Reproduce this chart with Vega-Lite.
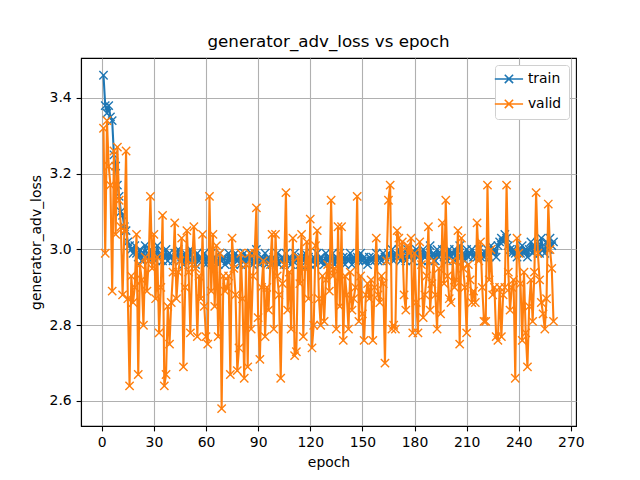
{
  "$schema": "https://vega.github.io/schema/vega-lite/v6.json",
  "autosize": "none",
  "width": 495,
  "height": 368,
  "padding": {"left": 81, "top": 58, "right": 64, "bottom": 54},
  "background": "white",
  "title": {"text": "generator_adv_loss vs epoch", "fontSize": 16.7, "fontWeight": "normal", "font": "DejaVu Sans", "color": "black", "offset": 7, "anchor": "middle"},
  "config": {
    "font": "DejaVu Sans",
    "view": {"stroke": "black", "strokeWidth": 1.1},
    "axis": {"domainColor": "black", "domainWidth": 1.1, "tickColor": "black", "tickWidth": 1.1, "tickSize": 4.9, "labelPadding": 4.9, "labelFontSize": 13.9, "labelColor": "black", "labelFont": "DejaVu Sans", "titleFontSize": 13.9, "titleFontWeight": "normal", "titleColor": "black", "titleFont": "DejaVu Sans", "titlePadding": 5.6, "gridColor": "#b0b0b0", "gridWidth": 1.1, "gridOpacity": 1}
  },
  "data": {"values": [
{"epoch":1,"train":3.46,"valid":3.32},{"epoch":2,"train":3.38,"valid":2.99},{"epoch":3,"train":3.36,"valid":3.34},{"epoch":4,"train":3.38,"valid":3.22},{"epoch":5,"train":3.35,"valid":3.17},
{"epoch":6,"train":3.34,"valid":2.89},{"epoch":7,"train":3.25,"valid":3.26},{"epoch":8,"train":3.22,"valid":3.04},{"epoch":9,"train":3.17,"valid":3.27},{"epoch":10,"train":3.14,"valid":3.13},
{"epoch":11,"train":3.10,"valid":3.06},{"epoch":12,"train":3.09,"valid":2.88},{"epoch":13,"train":3.06,"valid":3.05},{"epoch":14,"train":3.05,"valid":3.26},{"epoch":15,"train":3.02,"valid":2.87},
{"epoch":16,"train":3.01,"valid":2.64},{"epoch":17,"train":3.00,"valid":2.93},{"epoch":18,"train":2.99,"valid":2.86},{"epoch":19,"train":3.01,"valid":2.90},{"epoch":20,"train":2.99,"valid":3.04},
{"epoch":21,"train":2.98,"valid":2.67},{"epoch":22,"train":3.00,"valid":2.96},{"epoch":23,"train":2.97,"valid":2.92},{"epoch":24,"train":2.99,"valid":2.80},{"epoch":25,"train":3.01,"valid":2.98},
{"epoch":26,"train":2.98,"valid":2.89},{"epoch":27,"train":2.97,"valid":2.97},{"epoch":28,"train":3.00,"valid":3.14},{"epoch":29,"train":2.98,"valid":2.95},{"epoch":30,"train":2.99,"valid":3.04},
{"epoch":31,"train":2.97,"valid":2.87},{"epoch":32,"train":3.01,"valid":2.98},{"epoch":33,"train":2.98,"valid":2.78},{"epoch":34,"train":2.99,"valid":2.90},{"epoch":35,"train":2.97,"valid":3.09},
{"epoch":36,"train":2.98,"valid":2.64},{"epoch":37,"train":3.00,"valid":2.67},{"epoch":38,"train":2.97,"valid":2.85},{"epoch":39,"train":2.99,"valid":2.75},{"epoch":40,"train":2.98,"valid":2.86},
{"epoch":41,"train":2.97,"valid":2.94},{"epoch":42,"train":2.99,"valid":3.07},{"epoch":43,"train":2.98,"valid":2.87},{"epoch":44,"train":3.00,"valid":2.94},{"epoch":45,"train":2.97,"valid":2.97},
{"epoch":46,"train":2.98,"valid":3.03},{"epoch":47,"train":2.96,"valid":2.69},{"epoch":48,"train":2.99,"valid":2.90},{"epoch":49,"train":2.98,"valid":3.05},{"epoch":50,"train":2.97,"valid":2.94},
{"epoch":51,"train":3.00,"valid":2.78},{"epoch":52,"train":2.97,"valid":2.96},{"epoch":53,"train":2.98,"valid":3.06},{"epoch":54,"train":2.96,"valid":2.95},{"epoch":55,"train":2.99,"valid":2.77},
{"epoch":56,"train":2.97,"valid":2.93},{"epoch":57,"train":2.98,"valid":2.87},{"epoch":58,"train":2.97,"valid":3.04},{"epoch":59,"train":2.99,"valid":2.85},{"epoch":60,"train":2.96,"valid":2.77},
{"epoch":61,"train":2.98,"valid":2.75},{"epoch":62,"train":2.97,"valid":3.14},{"epoch":63,"train":2.99,"valid":2.89},{"epoch":64,"train":2.96,"valid":3.04},{"epoch":65,"train":2.98,"valid":2.85},
{"epoch":66,"train":2.97,"valid":3.01},{"epoch":67,"train":2.96,"valid":2.77},{"epoch":68,"train":2.99,"valid":2.99},{"epoch":69,"train":2.97,"valid":2.58},{"epoch":70,"train":2.98,"valid":2.93},
{"epoch":71,"train":2.96,"valid":2.89},{"epoch":72,"train":2.97,"valid":2.90},{"epoch":73,"train":2.99,"valid":2.93},{"epoch":74,"train":2.97,"valid":2.67},{"epoch":75,"train":2.98,"valid":3.03},
{"epoch":76,"train":2.96,"valid":2.95},{"epoch":77,"train":2.99,"valid":2.88},{"epoch":78,"train":2.97,"valid":2.68},{"epoch":79,"train":2.98,"valid":2.74},{"epoch":80,"train":2.96,"valid":2.99},
{"epoch":81,"train":2.97,"valid":2.87},{"epoch":82,"train":2.99,"valid":2.66},{"epoch":83,"train":2.96,"valid":2.96},{"epoch":84,"train":2.98,"valid":2.69},{"epoch":85,"train":2.97,"valid":2.99},
{"epoch":86,"train":2.99,"valid":2.79},{"epoch":87,"train":2.96,"valid":2.93},{"epoch":88,"train":2.97,"valid":2.99},{"epoch":89,"train":3.00,"valid":3.11},{"epoch":90,"train":2.97,"valid":2.82},
{"epoch":91,"train":2.96,"valid":2.71},{"epoch":92,"train":2.98,"valid":2.90},{"epoch":93,"train":2.97,"valid":2.97},{"epoch":94,"train":2.99,"valid":2.77},{"epoch":95,"train":2.96,"valid":2.90},
{"epoch":96,"train":2.98,"valid":2.84},{"epoch":97,"train":2.97,"valid":2.96},{"epoch":98,"train":2.96,"valid":3.04},{"epoch":99,"train":2.98,"valid":2.79},{"epoch":100,"train":2.97,"valid":3.04},
{"epoch":101,"train":2.99,"valid":2.93},{"epoch":102,"train":2.96,"valid":2.88},{"epoch":103,"train":2.97,"valid":2.66},{"epoch":104,"train":2.98,"valid":2.91},{"epoch":105,"train":2.96,"valid":2.96},
{"epoch":106,"train":2.99,"valid":3.15},{"epoch":107,"train":2.97,"valid":2.84},{"epoch":108,"train":2.98,"valid":2.94},{"epoch":109,"train":2.96,"valid":2.79},{"epoch":110,"train":2.97,"valid":3.03},
{"epoch":111,"train":2.99,"valid":2.72},{"epoch":112,"train":2.97,"valid":2.73},{"epoch":113,"train":2.98,"valid":2.98},{"epoch":114,"train":2.96,"valid":2.91},{"epoch":115,"train":2.98,"valid":3.04},
{"epoch":116,"train":2.97,"valid":2.77},{"epoch":117,"train":2.99,"valid":2.95},{"epoch":118,"train":2.97,"valid":3.02},{"epoch":119,"train":2.98,"valid":2.87},{"epoch":120,"train":2.96,"valid":3.08},
{"epoch":121,"train":2.97,"valid":2.74},{"epoch":122,"train":2.98,"valid":2.80},{"epoch":123,"train":2.96,"valid":3.01},{"epoch":124,"train":2.99,"valid":3.05},{"epoch":125,"train":2.97,"valid":2.87},
{"epoch":126,"train":2.98,"valid":2.80},{"epoch":127,"train":2.97,"valid":2.93},{"epoch":128,"train":2.96,"valid":2.81},{"epoch":129,"train":2.99,"valid":2.92},{"epoch":130,"train":2.97,"valid":2.96},
{"epoch":131,"train":2.98,"valid":2.89},{"epoch":132,"train":2.97,"valid":3.13},{"epoch":133,"train":2.99,"valid":2.93},{"epoch":134,"train":2.96,"valid":2.95},{"epoch":135,"train":2.98,"valid":2.79},
{"epoch":136,"train":2.97,"valid":3.06},{"epoch":137,"train":2.99,"valid":2.85},{"epoch":138,"train":2.97,"valid":3.06},{"epoch":139,"train":2.98,"valid":2.76},{"epoch":140,"train":2.96,"valid":2.93},
{"epoch":141,"train":2.98,"valid":2.88},{"epoch":142,"train":2.97,"valid":2.79},{"epoch":143,"train":2.99,"valid":2.94},{"epoch":144,"train":2.96,"valid":2.84},{"epoch":145,"train":2.98,"valid":2.87},
{"epoch":146,"train":2.97,"valid":2.90},{"epoch":147,"train":2.98,"valid":3.14},{"epoch":148,"train":2.97,"valid":2.81},{"epoch":149,"train":2.99,"valid":2.93},{"epoch":150,"train":2.97,"valid":2.83},
{"epoch":151,"train":2.98,"valid":2.76},{"epoch":152,"train":2.97,"valid":2.88},{"epoch":153,"train":2.96,"valid":2.91},{"epoch":154,"train":2.98,"valid":2.87},{"epoch":155,"train":2.97,"valid":2.92},
{"epoch":156,"train":2.98,"valid":2.76},{"epoch":157,"train":2.97,"valid":2.90},{"epoch":158,"train":2.99,"valid":3.03},{"epoch":159,"train":2.97,"valid":2.88},{"epoch":160,"train":2.98,"valid":2.86},
{"epoch":161,"train":2.97,"valid":2.93},{"epoch":162,"train":2.99,"valid":2.91},{"epoch":163,"train":2.98,"valid":2.70},{"epoch":164,"train":2.97,"valid":2.97},{"epoch":165,"train":2.99,"valid":3.13},
{"epoch":166,"train":2.98,"valid":3.17},{"epoch":167,"train":3.00,"valid":2.79},{"epoch":168,"train":2.97,"valid":2.80},{"epoch":169,"train":2.99,"valid":2.79},{"epoch":170,"train":2.98,"valid":3.05},
{"epoch":171,"train":3.00,"valid":3.03},{"epoch":172,"train":2.97,"valid":2.98},{"epoch":173,"train":2.99,"valid":3.02},{"epoch":174,"train":2.98,"valid":2.88},{"epoch":175,"train":2.97,"valid":2.84},
{"epoch":176,"train":3.00,"valid":3.01},{"epoch":177,"train":2.98,"valid":2.99},{"epoch":178,"train":2.99,"valid":3.03},{"epoch":179,"train":2.97,"valid":2.78},{"epoch":180,"train":2.99,"valid":2.99},
{"epoch":181,"train":3.00,"valid":2.86},{"epoch":182,"train":2.98,"valid":2.78},{"epoch":183,"train":2.99,"valid":3.02},{"epoch":184,"train":2.97,"valid":2.96},{"epoch":185,"train":3.00,"valid":2.82},
{"epoch":186,"train":2.98,"valid":2.88},{"epoch":187,"train":2.99,"valid":2.93},{"epoch":188,"train":2.97,"valid":3.06},{"epoch":189,"train":3.01,"valid":2.84},{"epoch":190,"train":2.98,"valid":2.91},
{"epoch":191,"train":2.99,"valid":2.97},{"epoch":192,"train":2.97,"valid":2.88},{"epoch":193,"train":3.00,"valid":2.79},{"epoch":194,"train":2.98,"valid":2.95},{"epoch":195,"train":2.99,"valid":2.83},
{"epoch":196,"train":3.00,"valid":3.07},{"epoch":197,"train":2.98,"valid":2.91},{"epoch":198,"train":2.99,"valid":3.13},{"epoch":199,"train":2.97,"valid":2.93},{"epoch":200,"train":3.00,"valid":2.87},
{"epoch":201,"train":2.98,"valid":2.86},{"epoch":202,"train":2.99,"valid":2.97},{"epoch":203,"train":3.00,"valid":2.90},{"epoch":204,"train":2.97,"valid":2.92},{"epoch":205,"train":2.99,"valid":3.05},
{"epoch":206,"train":3.01,"valid":2.75},{"epoch":207,"train":2.98,"valid":3.03},{"epoch":208,"train":2.99,"valid":2.95},{"epoch":209,"train":2.97,"valid":2.90},{"epoch":210,"train":3.00,"valid":2.78},
{"epoch":211,"train":2.98,"valid":2.96},{"epoch":212,"train":2.99,"valid":2.92},{"epoch":213,"train":3.00,"valid":2.86},{"epoch":214,"train":2.98,"valid":2.89},{"epoch":215,"train":2.99,"valid":2.86},
{"epoch":216,"train":2.98,"valid":3.07},{"epoch":217,"train":3.00,"valid":2.97},{"epoch":218,"train":2.98,"valid":3.02},{"epoch":219,"train":2.99,"valid":2.90},{"epoch":220,"train":2.98,"valid":2.81},
{"epoch":221,"train":2.99,"valid":2.81},{"epoch":222,"train":3.00,"valid":3.17},{"epoch":223,"train":2.98,"valid":2.92},{"epoch":224,"train":3.01,"valid":3.00},{"epoch":225,"train":2.99,"valid":2.88},
{"epoch":226,"train":3.00,"valid":2.90},{"epoch":227,"train":2.98,"valid":2.77},{"epoch":228,"train":3.01,"valid":2.76},{"epoch":229,"train":3.02,"valid":2.90},{"epoch":230,"train":3.03,"valid":2.77},
{"epoch":231,"train":3.02,"valid":2.88},{"epoch":232,"train":3.04,"valid":2.90},{"epoch":233,"train":3.03,"valid":3.17},{"epoch":234,"train":3.01,"valid":2.94},{"epoch":235,"train":3.00,"valid":2.84},
{"epoch":236,"train":2.99,"valid":2.90},{"epoch":237,"train":3.00,"valid":2.92},{"epoch":238,"train":2.99,"valid":2.66},{"epoch":239,"train":2.98,"valid":3.03},{"epoch":240,"train":3.00,"valid":2.99},
{"epoch":241,"train":2.99,"valid":2.91},{"epoch":242,"train":3.01,"valid":2.76},{"epoch":243,"train":2.99,"valid":2.94},{"epoch":244,"train":3.00,"valid":2.78},{"epoch":245,"train":2.98,"valid":2.69},
{"epoch":246,"train":3.00,"valid":2.85},{"epoch":247,"train":3.02,"valid":2.92},{"epoch":248,"train":2.99,"valid":2.81},{"epoch":249,"train":3.01,"valid":2.94},{"epoch":250,"train":3.00,"valid":3.15},
{"epoch":251,"train":3.02,"valid":2.99},{"epoch":252,"train":2.99,"valid":2.92},{"epoch":253,"train":3.03,"valid":2.86},{"epoch":254,"train":3.00,"valid":2.83},{"epoch":255,"train":2.99,"valid":2.79},
{"epoch":256,"train":3.02,"valid":2.87},{"epoch":257,"train":3.00,"valid":3.12},{"epoch":258,"train":3.03,"valid":3.00},{"epoch":259,"train":3.01,"valid":2.95},{"epoch":260,"train":3.02,"valid":2.81}
  ]},
  "transform": [{"fold": ["train", "valid"], "as": ["series", "loss"]}],
  "encoding": {
    "x": {"field": "epoch", "type": "quantitative", "scale": {"domain": [-11.95, 272.95], "nice": false, "zero": false},
          "axis": {"values": [0, 30, 60, 90, 120, 150, 180, 210, 240, 270], "title": "epoch", "grid": true}},
    "y": {"field": "loss", "type": "quantitative", "scale": {"domain": [2.534, 3.5055], "nice": false, "zero": false},
          "axis": {"values": [2.6, 2.8, 3.0, 3.2, 3.4], "format": ".1f", "title": "generator_adv_loss", "grid": true}},
    "color": {"field": "series", "type": "nominal",
              "scale": {"domain": ["train", "valid"], "range": ["#1f77b4", "#ff7f0e"]},
              "legend": {"title": null, "orient": "top-right", "offset": 7, "symbolType": "M-3.4,0H3.4M-1,-1L1,1M-1,1L1,-1", "symbolSize": 69, "symbolStrokeWidth": 1.6, "symbolFillColor": "transparent", "labelFontSize": 13.9, "labelFont": "DejaVu Sans", "labelColor": "black", "labelOffset": 12, "strokeColor": "#d0d0d0", "fillColor": "white", "padding": 7, "cornerRadius": 3, "rowPadding": 9}}
  },
  "layer": [
    {"transform": [{"filter": "datum.series == 'train'"}],
     "mark": {"type": "line", "strokeWidth": 2.08, "strokeJoin": "round",
              "point": {"shape": "M-1,-1L1,1M-1,1L1,-1", "filled": false, "size": 69, "strokeWidth": 1.4}}},
    {"transform": [{"filter": "datum.series == 'valid'"}],
     "mark": {"type": "line", "strokeWidth": 2.08, "strokeJoin": "round",
              "point": {"shape": "M-1,-1L1,1M-1,1L1,-1", "filled": false, "size": 69, "strokeWidth": 1.4}}}
  ]
}
